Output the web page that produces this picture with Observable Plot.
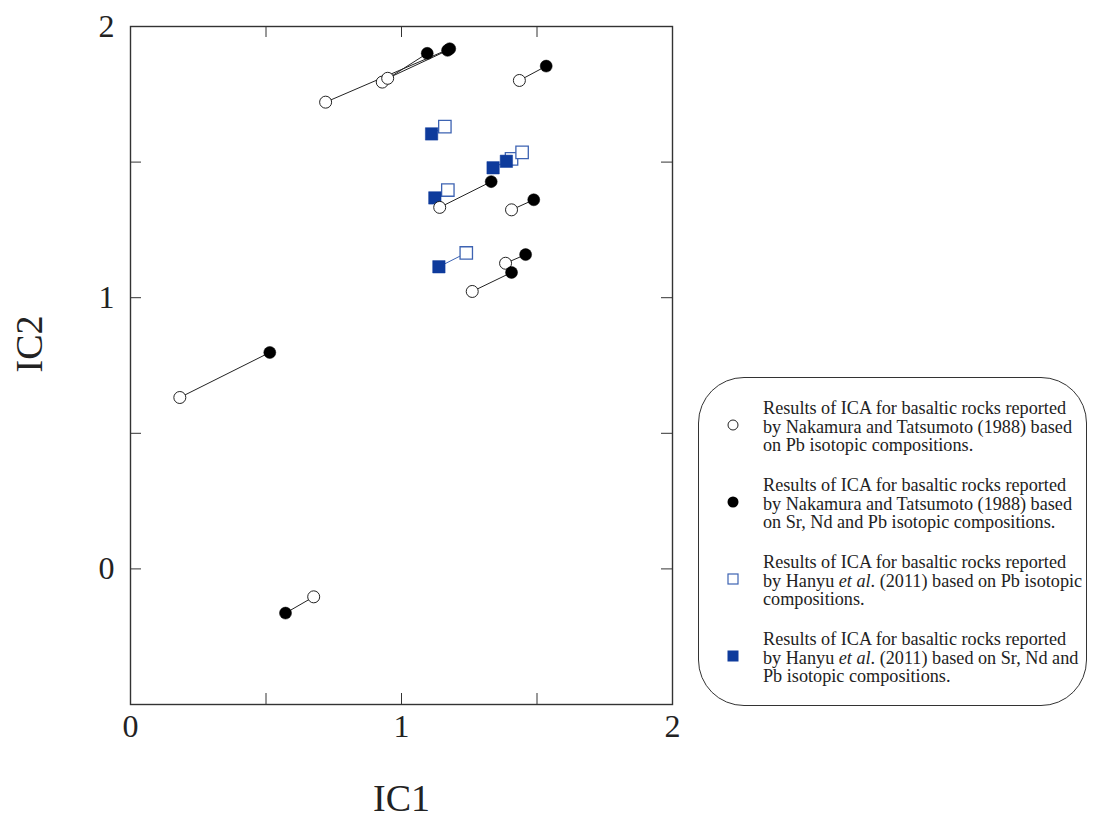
<!DOCTYPE html>
<html>
<head>
<meta charset="utf-8">
<script src="https://cdn.jsdelivr.net/npm/d3@7"></script>
<script src="https://cdn.jsdelivr.net/npm/@observablehq/plot@0.6"></script>
<style>
  html, body { margin: 0; padding: 0; background: #fff; }
  #wrap { position: relative; width: 1098px; height: 819px; overflow: hidden; }
  #legend {
    position: absolute; left: 698px; top: 377px; width: 389px; height: 329px;
    border: 1.5px solid #333; border-radius: 46px; box-sizing: border-box;
    font-family: "Liberation Serif", "Times New Roman", serif; color: #222;
  }
  .entry { position: absolute; left: 64px; font-size: 18.2px; line-height: 18.6px; white-space: nowrap; }
  .mk { position: absolute; left: 26px; }
</style>
</head>
<body>
<div id="wrap"></div>
<script>
// Nakamura and Tatsumoto (1988) — based on Pb isotopic compositions (open circles)
const ntPbIC1 = [0.720, 0.929, 0.949, 1.435, 1.141, 1.406, 1.384, 1.261, 0.182, 0.676];
const ntPbIC2 = [1.721, 1.795, 1.809, 1.801, 1.333, 1.324, 1.127, 1.023, 0.632, -0.103];
// Nakamura and Tatsumoto (1988) — based on Sr, Nd and Pb (filled circles)
const ntAllIC1 = [1.178, 1.095, 1.170, 1.534, 1.331, 1.488, 1.458, 1.406, 0.514, 0.572];
const ntAllIC2 = [1.918, 1.901, 1.912, 1.854, 1.428, 1.361, 1.159, 1.093, 0.798, -0.163];
// Hanyu et al. (2011) — based on Pb (open squares)
const hPbIC1 = [1.160, 1.171, 1.406, 1.445, 1.239];
const hPbIC2 = [1.631, 1.397, 1.512, 1.536, 1.165];
// Hanyu et al. (2011) — based on Sr, Nd and Pb (filled squares)
const hAllIC1 = [1.111, 1.123, 1.338, 1.387, 1.138];
const hAllIC2 = [1.604, 1.368, 1.479, 1.503, 1.114];

const tickLabels = [0, 1, 2];
const minorX = [0.5, 1, 1.5];
const minorY = [0, 0.5, 1, 1.5];

const ntPairs = ntPbIC1.map((_, i) => ({x1: ntPbIC1[i], y1: ntPbIC2[i], x2: ntAllIC1[i], y2: ntAllIC2[i]}));
const hPairs = hPbIC1.map((_, i) => ({x1: hPbIC1[i], y1: hPbIC2[i], x2: hAllIC1[i], y2: hAllIC2[i]}));
const ntPb = ntPbIC1.map((x, i) => ({x, y: ntPbIC2[i]}));
const ntAll = ntAllIC1.map((x, i) => ({x, y: ntAllIC2[i]}));
const hPb = hPbIC1.map((x, i) => ({x, y: hPbIC2[i]}));
const hAll = hAllIC1.map((x, i) => ({x, y: hAllIC2[i]}));

const W = 1098, H = 819, mL = 130, mT = 26, mR = 426, mB = 115;
const fw = W - mL - mR, fh = H - mT - mB, tl = 11;
const BLUE = "#0e3b9c", BLUE_L = "#3d63b2";
const serif = "'Liberation Serif', 'Times New Roman', serif";
const fmt = d3.format("d");

const chart = Plot.plot({
  width: W, height: H,
  marginLeft: mL, marginTop: mT, marginRight: mR, marginBottom: mB,
  style: {fontFamily: serif, color: "#222", background: "#fff"},
  x: {domain: [0, 2]},
  y: {domain: [-0.5, 2]},
  marks: [
    Plot.frame({stroke: "#333", strokeWidth: 1.4}),
    Plot.tickX(minorX, {x: d => d, insetTop: fh - tl, stroke: "#333"}),
    Plot.tickX(minorX, {x: d => d, insetBottom: fh - tl, stroke: "#333"}),
    Plot.tickY(minorY, {y: d => d, insetRight: fw - tl, stroke: "#333"}),
    Plot.tickY(minorY, {y: d => d, insetLeft: fw - tl, stroke: "#333"}),
    Plot.axisX(tickLabels, {tickSize: 0, tickPadding: 10, fontSize: 32, tickFormat: fmt, label: null}),
    Plot.axisY(tickLabels, {tickSize: 0, tickPadding: 16, fontSize: 32, tickFormat: fmt, label: null}),
    Plot.text(["IC1"], {frameAnchor: "bottom", dy: 94, fontSize: 38, fill: "#222", lineAnchor: "middle"}),
    Plot.text(["IC2"], {frameAnchor: "left", dx: -101, dy: 7, rotate: -90, fontSize: 38, fill: "#222", lineAnchor: "middle"}),
    Plot.link(ntPairs, {x1: "x1", y1: "y1", x2: "x2", y2: "y2", stroke: "#222", strokeWidth: 1}),
    Plot.link(hPairs, {x1: "x1", y1: "y1", x2: "x2", y2: "y2", stroke: BLUE_L, strokeWidth: 1}),
    Plot.dot(hPb, {x: "x", y: "y", symbol: "square", r: 7, fill: "#fff", stroke: BLUE_L, strokeWidth: 1.3}),
    Plot.dot(hAll, {x: "x", y: "y", symbol: "square", r: 7, fill: BLUE, stroke: BLUE, strokeWidth: 0.5}),
    Plot.dot(ntPb, {x: "x", y: "y", r: 6, fill: "#fff", stroke: "#222", strokeWidth: 1}),
    Plot.dot(ntAll, {x: "x", y: "y", r: 6, fill: "#000", stroke: "#000", strokeWidth: 0.5})
  ]
});

const wrap = document.getElementById("wrap");
wrap.appendChild(chart);

const legendItems = [
  {mk: '<circle cx="8" cy="8" r="5" fill="#fff" stroke="#222" stroke-width="1"/>',
   html: 'Results of ICA for basaltic rocks reported<br>by Nakamura and Tatsumoto (1988) based<br>on Pb isotopic compositions.'},
  {mk: '<circle cx="8" cy="8" r="5.5" fill="#000"/>',
   html: 'Results of ICA for basaltic rocks reported<br>by Nakamura and Tatsumoto (1988) based<br>on Sr, Nd and Pb isotopic compositions.'},
  {mk: '<rect x="3" y="3" width="10" height="10" fill="#fff" stroke="' + BLUE_L + '" stroke-width="1.2"/>',
   html: 'Results of ICA for basaltic rocks reported<br>by Hanyu <i>et al</i>. (2011) based on Pb isotopic<br>compositions.'},
  {mk: '<rect x="2.5" y="2.5" width="11" height="11" fill="' + BLUE + '"/>',
   html: 'Results of ICA for basaltic rocks reported<br>by Hanyu <i>et al</i>. (2011) based on Sr, Nd and<br>Pb isotopic compositions.'}
];
const legend = document.createElement("div");
legend.id = "legend";
legendItems.forEach((it, i) => {
  const top = 21 + i * 77;
  const e = document.createElement("div");
  e.className = "entry";
  e.style.top = top + "px";
  e.innerHTML = it.html;
  legend.appendChild(e);
  const m = document.createElement("div");
  m.className = "mk";
  m.style.top = (top + 18.6 + 9.3 - 8 - 2) + "px";
  m.innerHTML = '<svg width="16" height="16">' + it.mk + '</svg>';
  legend.appendChild(m);
});
wrap.appendChild(legend);
</script>
</body>
</html>
